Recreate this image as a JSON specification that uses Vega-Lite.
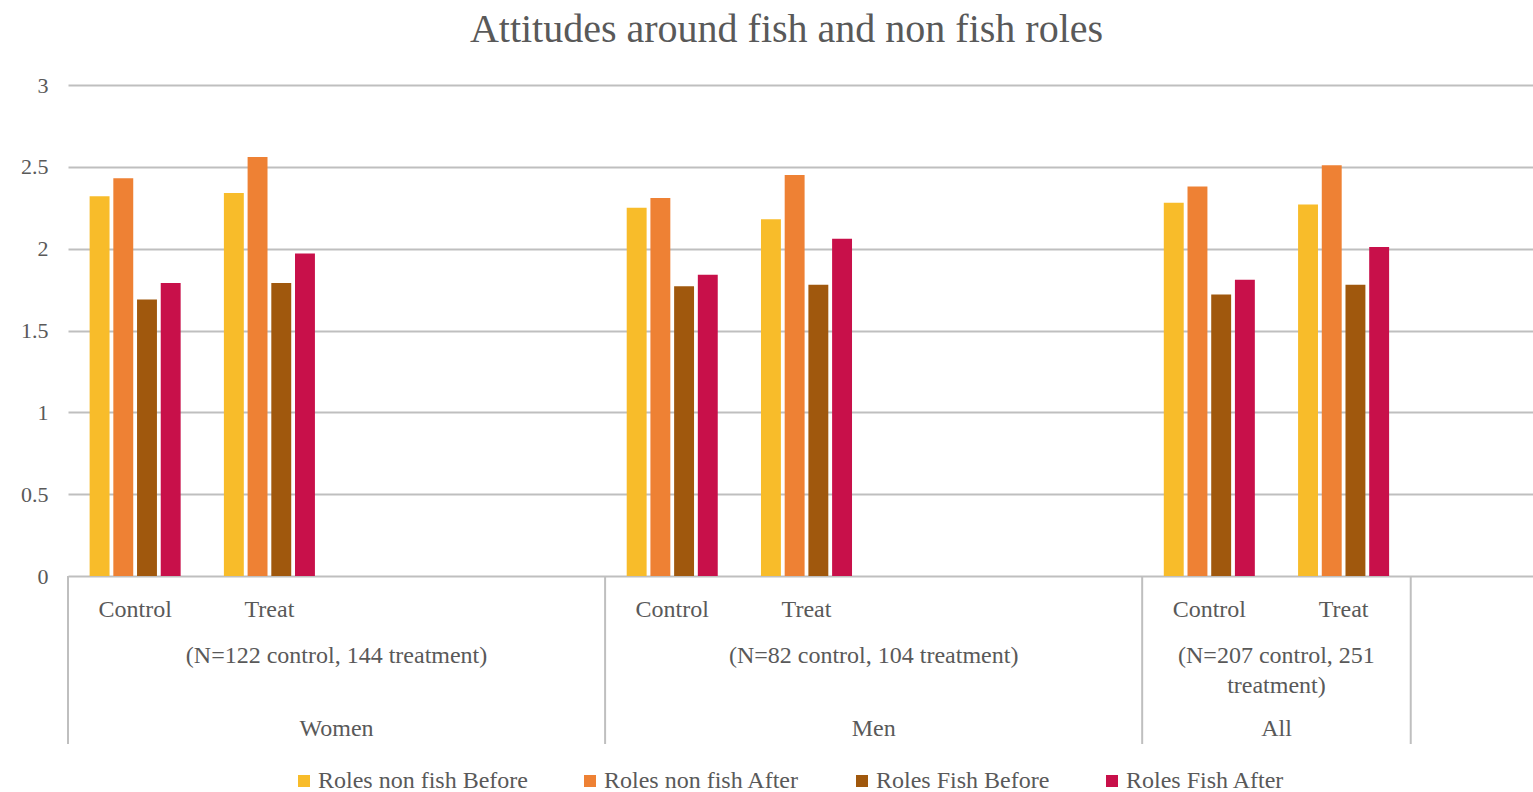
{
  "$schema": "https://vega.github.io/schema/vega-lite/v6.json",
  "autosize": {"type": "pad"},
  "padding": {"left": 20, "top": 10, "right": 0, "bottom": 0},
  "background": "white",
  "title": {"text": "Attitudes around fish and non fish roles", "font": "Liberation Serif", "fontSize": 40, "fontWeight": "normal", "color": "#595959", "anchor": "middle", "frame": "group", "offset": 24, "dx": -14},
  "datasets": {
    "bars": [
      {"slot": "Women Control", "group": "Women", "cond": "Control", "series": "Roles non fish Before", "value": 2.32},
      {"slot": "Women Control", "group": "Women", "cond": "Control", "series": "Roles non fish After", "value": 2.43},
      {"slot": "Women Control", "group": "Women", "cond": "Control", "series": "Roles Fish Before", "value": 1.69},
      {"slot": "Women Control", "group": "Women", "cond": "Control", "series": "Roles Fish After", "value": 1.79},
      {"slot": "Women Treat", "group": "Women", "cond": "Treat", "series": "Roles non fish Before", "value": 2.34},
      {"slot": "Women Treat", "group": "Women", "cond": "Treat", "series": "Roles non fish After", "value": 2.56},
      {"slot": "Women Treat", "group": "Women", "cond": "Treat", "series": "Roles Fish Before", "value": 1.79},
      {"slot": "Women Treat", "group": "Women", "cond": "Treat", "series": "Roles Fish After", "value": 1.97},
      {"slot": "Men Control", "group": "Men", "cond": "Control", "series": "Roles non fish Before", "value": 2.25},
      {"slot": "Men Control", "group": "Men", "cond": "Control", "series": "Roles non fish After", "value": 2.31},
      {"slot": "Men Control", "group": "Men", "cond": "Control", "series": "Roles Fish Before", "value": 1.77},
      {"slot": "Men Control", "group": "Men", "cond": "Control", "series": "Roles Fish After", "value": 1.84},
      {"slot": "Men Treat", "group": "Men", "cond": "Treat", "series": "Roles non fish Before", "value": 2.18},
      {"slot": "Men Treat", "group": "Men", "cond": "Treat", "series": "Roles non fish After", "value": 2.45},
      {"slot": "Men Treat", "group": "Men", "cond": "Treat", "series": "Roles Fish Before", "value": 1.78},
      {"slot": "Men Treat", "group": "Men", "cond": "Treat", "series": "Roles Fish After", "value": 2.06},
      {"slot": "All Control", "group": "All", "cond": "Control", "series": "Roles non fish Before", "value": 2.28},
      {"slot": "All Control", "group": "All", "cond": "Control", "series": "Roles non fish After", "value": 2.38},
      {"slot": "All Control", "group": "All", "cond": "Control", "series": "Roles Fish Before", "value": 1.72},
      {"slot": "All Control", "group": "All", "cond": "Control", "series": "Roles Fish After", "value": 1.81},
      {"slot": "All Treat", "group": "All", "cond": "Treat", "series": "Roles non fish Before", "value": 2.27},
      {"slot": "All Treat", "group": "All", "cond": "Treat", "series": "Roles non fish After", "value": 2.51},
      {"slot": "All Treat", "group": "All", "cond": "Treat", "series": "Roles Fish Before", "value": 1.78},
      {"slot": "All Treat", "group": "All", "cond": "Treat", "series": "Roles Fish After", "value": 2.01}
    ],
    "groups": [
      {"group": "Women", "n": "(N=122 control, 144 treatment)", "start": "Women Control", "center": "Women Treat"},
      {"group": "Men", "n": "(N=82 control, 104 treatment)", "start": "Men Control", "center": "Men Treat"},
      {"group": "All", "n": "(N=207 control, 251\ntreatment)", "start": "All Control", "center": "All Control"},
      {"group": "", "n": "", "start": "blank end", "center": "blank end"}
    ]
  },
  "spacing": 0,
  "bounds": "flush",
  "resolve": {"scale": {"x": "independent"}},
  "vconcat": [
    {
      "width": 1465,
      "height": 491,
      "data": {"name": "bars"},
      "mark": {"type": "bar"},
      "encoding": {
        "x": {
          "field": "slot", "type": "nominal", "sort": null,
          "scale": {
            "domain": ["Women Control", "Women Treat", "Women blank 1", "Women blank 2", "Men Control", "Men Treat", "Men blank 1", "Men blank 2", "All Control", "All Treat", "blank end"],
            "range": [0, 1477], "paddingInner": 0.322, "paddingOuter": 0.161
          },
          "axis": {
            "title": null, "labelAngle": 0, "ticks": false, "grid": false, "domain": false,
            "labelExpr": "indexof(datum.value, 'Control') >= 0 ? 'Control' : (indexof(datum.value, 'Treat') >= 0 ? 'Treat' : '')",
            "labelFont": "Liberation Serif", "labelFontSize": 24, "labelColor": "#595959",
            "labelPadding": 21, "labelOverlap": false, "labelBound": false
          }
        },
        "xOffset": {
          "field": "series", "type": "nominal",
          "sort": ["Roles non fish Before", "Roles non fish After", "Roles Fish Before", "Roles Fish After"],
          "scale": {"paddingInner": 0.16, "paddingOuter": 0}
        },
        "y": {
          "field": "value", "type": "quantitative",
          "scale": {"domain": [0, 3], "nice": false},
          "axis": {
            "title": null, "values": [0, 0.5, 1, 1.5, 2, 2.5, 3], "format": "~g", "domain": false, "ticks": false,
            "gridColor": "#BFBFBF", "gridWidth": 2,
            "labelFont": "Liberation Serif", "labelFontSize": 22, "labelColor": "#595959", "labelPadding": 20
          }
        },
        "color": {
          "field": "series", "type": "nominal",
          "sort": ["Roles non fish Before", "Roles non fish After", "Roles Fish Before", "Roles Fish After"],
          "scale": {
            "domain": ["Roles non fish Before", "Roles non fish After", "Roles Fish Before", "Roles Fish After"],
            "range": ["#F8BC2A", "#EE8134", "#A0580D", "#C8104A"]
          },
          "legend": {
            "orient": "none", "legendX": 224, "legendY": 684, "direction": "horizontal", "columns": 4,
            "title": null, "symbolType": "square", "symbolSize": 144, "symbolStrokeWidth": 0,
            "labelFont": "Liberation Serif", "labelFontSize": 24, "labelColor": "#595959",
            "columnPadding": 50, "labelOffset": 2, "labelLimit": 400
          }
        }
      }
    },
    {
      "width": 1465,
      "height": 168,
      "data": {"name": "groups"},
      "layer": [
        {
          "mark": {"type": "rule", "color": "#BFBFBF", "strokeWidth": 2},
          "encoding": {
            "x": {
              "field": "start", "type": "nominal", "bandPosition": 0,
              "scale": {
                "domain": ["Women Control", "Women Treat", "Women blank 1", "Women blank 2", "Men Control", "Men Treat", "Men blank 1", "Men blank 2", "All Control", "All Treat", "blank end"],
                "range": [0, 1477], "paddingInner": 0, "paddingOuter": 0
              },
              "axis": null
            }
          }
        },
        {
          "transform": [{"fold": ["n", "group"], "as": ["level", "label"]}, {"filter": "datum.label != ''"}],
          "mark": {"type": "text", "baseline": "top", "align": "center", "lineBreak": "\n", "lineHeight": 30, "font": "Liberation Serif", "fontSize": 24, "color": "#595959"},
          "encoding": {
            "x": {
              "field": "center", "type": "nominal", "bandPosition": 1,
              "scale": {
                "domain": ["Women Control", "Women Treat", "Women blank 1", "Women blank 2", "Men Control", "Men Treat", "Men blank 1", "Men blank 2", "All Control", "All Treat", "blank end"],
                "range": [0, 1477], "paddingInner": 0, "paddingOuter": 0
              },
              "axis": null
            },
            "y": {"field": "level", "type": "nominal", "scale": {"type": "point", "domain": ["n", "group"], "range": [68, 141], "padding": 0}, "axis": null},
            "text": {"field": "label", "type": "nominal"}
          }
        }
      ]
    }
  ],
  "config": {"view": {"stroke": null}, "font": "Liberation Serif"}
}
